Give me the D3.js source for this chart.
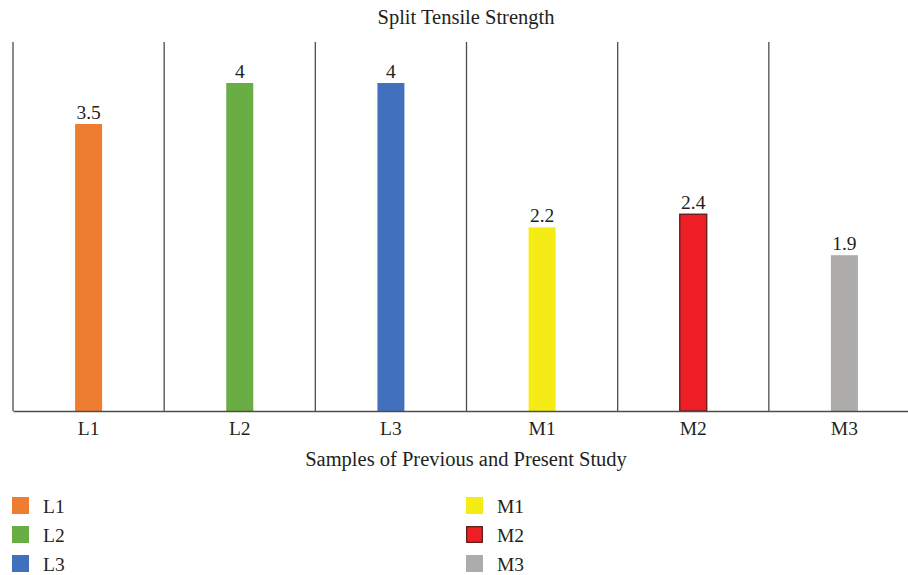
<!DOCTYPE html>
<html>
<head>
<meta charset="utf-8">
<script src="https://cdn.jsdelivr.net/npm/d3@7"></script>
<style>
  body { margin: 0; background: #fff; }
  svg text { font-family: "Liberation Serif", "DejaVu Serif", serif; fill: #231f20; }
</style>
</head>
<body>
<svg width="908" height="575"></svg>
<script>
const categories = ['L1', 'L2', 'L3', 'M1', 'M2', 'M3'];
const values = [3.5, 4, 4, 2.24, 2.4, 1.9];
const colors = ['#ef7d31', '#6aad45', '#4171bc', '#f4ec14', '#ee1f24', '#adacaa'];
const strokes = ['none', 'none', 'none', 'none', '#5a1b1b', 'none'];

const svg = d3.select('svg');
const margin = { left: 13, top: 42, bottom: 164 };
const plotW = 907;
const plotH = 575 - margin.top - margin.bottom;
const fmt = d3.format('.2~r');

const x = d3.scaleBand()
  .domain(categories)
  .range([margin.left, margin.left + plotW]);
const y = d3.scaleLinear()
  .domain([0, 4.5])
  .range([margin.top + plotH, margin.top]);

// title
svg.append('text')
  .attr('x', 466)
  .attr('y', 24)
  .attr('text-anchor', 'middle')
  .attr('font-size', 20.5)
  .text('Split Tensile Strength');

// category separators
svg.append('g')
  .selectAll('line')
  .data(categories)
  .enter().append('line')
    .attr('x1', d => x(d))
    .attr('x2', d => x(d))
    .attr('y1', y(4.5))
    .attr('y2', y(0))
    .attr('stroke', '#4d4d4d')
    .attr('stroke-width', 1.3);

// bars
const barW = 27;
svg.append('g')
  .selectAll('rect')
  .data(categories)
  .enter().append('rect')
    .attr('x', d => x(d) + x.bandwidth() / 2 - barW / 2)
    .attr('y', (d, i) => y(values[i]))
    .attr('width', barW)
    .attr('height', (d, i) => y(0) - y(values[i]))
    .attr('fill', (d, i) => colors[i])
    .attr('stroke', (d, i) => strokes[i])
    .attr('stroke-width', 1.3);

// value labels
svg.append('g')
  .selectAll('text')
  .data(categories)
  .enter().append('text')
    .attr('x', d => x(d) + x.bandwidth() / 2)
    .attr('y', (d, i) => y(values[i]) - 5)
    .attr('text-anchor', 'middle')
    .attr('font-size', 19.5)
    .text((d, i) => fmt(values[i]));

// x axis
const xAxis = svg.append('g')
  .attr('transform', `translate(0,${y(0)})`)
  .call(d3.axisBottom(x).tickSize(0).tickPadding(10));
xAxis.select('.domain')
  .attr('stroke', '#4d4d4d')
  .attr('stroke-width', 1.3);
xAxis.selectAll('text')
  .attr('font-size', 19.5);

svg.append('text')
  .attr('x', 466)
  .attr('y', 466)
  .attr('text-anchor', 'middle')
  .attr('font-size', 20.5)
  .text('Samples of Previous and Present Study');

// legend
const legend = svg.append('g');
categories.forEach((c, i) => {
  const col = Math.floor(i / 3);
  const row = i % 3;
  const lx = col === 0 ? 12 : 466;
  const ly = 497 + row * 29;
  const inset = strokes[i] === 'none' ? 0 : 0.7;
  legend.append('rect')
    .attr('x', lx + inset)
    .attr('y', ly + inset)
    .attr('width', 17 - 2 * inset)
    .attr('height', 17 - 2 * inset)
    .attr('fill', colors[i])
    .attr('stroke', strokes[i])
    .attr('stroke-width', 1.3);
  legend.append('text')
    .attr('x', lx + 31)
    .attr('y', ly + 16)
    .attr('font-size', 19.5)
    .text(c);
});
</script>
</body>
</html>
